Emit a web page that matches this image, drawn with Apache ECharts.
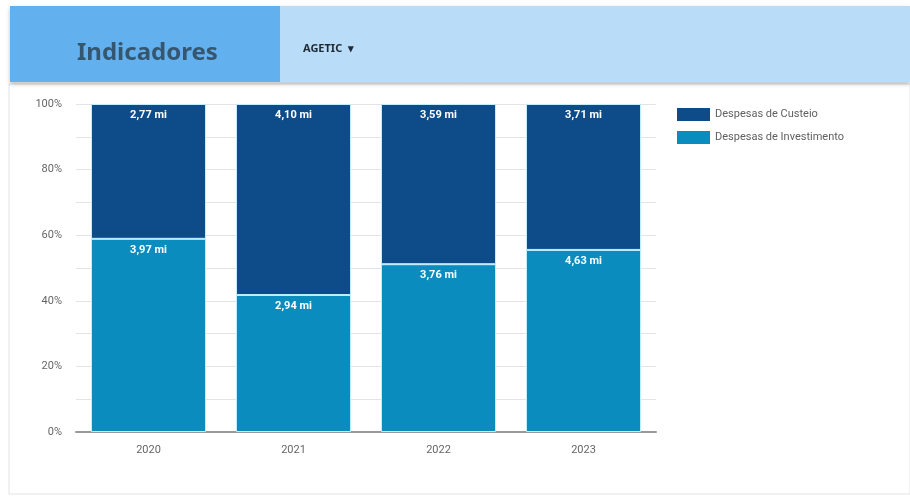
<!DOCTYPE html>
<html>
<head>
<meta charset="utf-8">
<script src="https://cdn.jsdelivr.net/npm/echarts@6/dist/echarts.min.js"></script>
<style>
html,body{margin:0;padding:0;background:#ffffff;}
#c{width:910px;height:498px;}
</style>
</head>
<body>
<div id="c"></div>
<script>
const categories = ['2020', '2021', '2022', '2023'];
const custeio = [2.77, 4.10, 3.59, 3.71];
const investimento = [3.97, 2.94, 3.76, 4.63];
const seriesNames = ['Despesas de Custeio', 'Despesas de Investimento'];
const yTicks = [0, 20, 40, 60, 80, 100];

const totals = categories.map((_, i) => custeio[i] + investimento[i]);
const invPct = investimento.map((v, i) => v / totals[i] * 100);
const custPct = custeio.map((v, i) => v / totals[i] * 100);
const fmt = v => v.toFixed(2).replace('.', ',') + ' mi';

const chart = echarts.init(document.getElementById('c'), null, {renderer: 'canvas'});
const option = {
  animation: false,
  backgroundColor: '#ffffff',
  graphic: [
    {type: 'rect', shape: {x: 9, y: 84, width: 901, height: 410}, style: {fill: '#ffffff', stroke: '#e3e3e3', lineWidth: 1}, z: -1},
    {type: 'rect', shape: {x: 10, y: 6, width: 900, height: 76}, style: {fill: '#b9dcf8', shadowBlur: 4, shadowColor: 'rgba(0,0,0,0.25)', shadowOffsetY: 2}},
    {type: 'rect', shape: {x: 10, y: 6, width: 270, height: 76}, style: {fill: '#63b0ef'}},
    {type: 'text', left: 77, top: 41, style: {text: 'Indicadores', fill: '#35566f', font: 'bold 24px "Noto Sans", sans-serif'}},
    {type: 'text', left: 303, top: 43, style: {text: 'AGETIC  ▾', fill: '#1d2a35', font: 'bold 11px "Noto Sans", sans-serif'}}
  ],
  legend: {
    orient: 'vertical',
    left: 672,
    top: 103,
    itemWidth: 33,
    itemHeight: 13,
    itemGap: 10,
    icon: 'rect',
    itemStyle: {borderWidth: 0},
    textStyle: {color: '#5f5f5f', fontSize: 11, fontFamily: 'Roboto, sans-serif'},
    data: seriesNames
  },
  grid: {left: 76, right: 254, top: 104, bottom: 66},
  xAxis: {
    type: 'category',
    data: categories,
    axisLine: {lineStyle: {color: '#999', width: 2}},
    axisTick: {show: false},
    axisLabel: {color: '#666', fontSize: 11, margin: 13, fontFamily: 'Roboto, sans-serif'}
  },
  yAxis: {
    type: 'value',
    min: 0,
    max: 100,
    interval: 10,
    axisLine: {show: false},
    axisTick: {show: false},
    splitLine: {lineStyle: {color: '#e4e4e4'}},
    axisLabel: {
      color: '#666', fontSize: 11, margin: 14, fontFamily: 'Roboto, sans-serif',
      formatter: v => yTicks.indexOf(v) >= 0 ? v + '%' : ''
    }
  },
  series: [
    {
      name: seriesNames[1], type: 'bar', stack: 'total', barWidth: 115,
      itemStyle: {color: '#0a8cbf', borderColor: '#bfeeff', borderWidth: 1},
      label: {show: true, position: 'insideTop', distance: 6, color: '#fff', fontWeight: 'bold', fontSize: 11,
        fontFamily: 'Roboto, sans-serif', formatter: p => fmt(investimento[p.dataIndex])},
      data: invPct
    },
    {
      name: seriesNames[0], type: 'bar', stack: 'total', barWidth: 115,
      itemStyle: {color: '#0d4b89', borderColor: '#bfeeff', borderWidth: 1},
      label: {show: true, position: 'insideTop', distance: 6, color: '#fff', fontWeight: 'bold', fontSize: 11,
        fontFamily: 'Roboto, sans-serif', formatter: p => fmt(custeio[p.dataIndex])},
      data: custPct
    }
  ]
};
chart.setOption(option);
</script>
</body>
</html>
